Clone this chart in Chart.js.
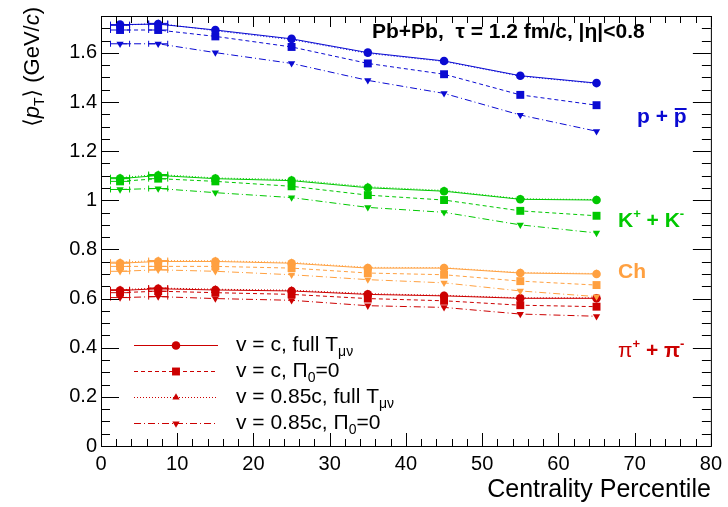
<!DOCTYPE html>
<html>
<head>
<meta charset="utf-8">
<script src="https://cdn.jsdelivr.net/npm/chart.js@4"></script>
<style>
  html, body { margin: 0; padding: 0; background: #fff; }
  #wrap { width: 728px; height: 507px; position: relative; }
</style>
</head>
<body>
<div id="wrap"><canvas id="ptChart"></canvas></div>
<script>
// centrality bins (percent)
const centrality = [2.5, 7.5, 15, 25, 35, 45, 55, 65];

// <pT> values, one array per species and model setting
const protonFull = [1.715, 1.717, 1.693, 1.657, 1.601, 1.567, 1.507, 1.477];
const protonPi0 = [1.693, 1.693, 1.667, 1.624, 1.557, 1.513, 1.429, 1.387];
const proton085Full = [1.712, 1.720, 1.690, 1.654, 1.598, 1.565, 1.505, 1.475];
const proton085Pi0 = [1.637, 1.637, 1.601, 1.557, 1.488, 1.435, 1.347, 1.281];

const kaonFull = [1.088, 1.101, 1.088, 1.080, 1.051, 1.037, 1.004, 1.001];
const kaonPi0 = [1.077, 1.088, 1.077, 1.057, 1.021, 1.001, 0.957, 0.937];
const kaon085Full = [1.092, 1.105, 1.091, 1.084, 1.055, 1.040, 1.006, 1.003];
const kaon085Pi0 = [1.044, 1.048, 1.031, 1.011, 0.971, 0.951, 0.900, 0.867];

const chFull = [0.744, 0.751, 0.751, 0.744, 0.724, 0.724, 0.704, 0.700];
const chPi0 = [0.731, 0.731, 0.731, 0.724, 0.704, 0.697, 0.671, 0.655];
const ch085Full = [0.748, 0.755, 0.754, 0.747, 0.727, 0.726, 0.706, 0.702];
const ch085Pi0 = [0.711, 0.717, 0.711, 0.697, 0.677, 0.664, 0.631, 0.608];

const pionFull = [0.633, 0.640, 0.635, 0.631, 0.617, 0.611, 0.601, 0.601];
const pionPi0 = [0.624, 0.630, 0.624, 0.617, 0.600, 0.591, 0.573, 0.567];
const pion085Full = [0.636, 0.643, 0.638, 0.634, 0.620, 0.613, 0.603, 0.603];
const pion085Pi0 = [0.604, 0.608, 0.600, 0.593, 0.571, 0.564, 0.537, 0.528];

const xTicks = [0, 10, 20, 30, 40, 50, 60, 70, 80];
const yTicks = [0, 0.2, 0.4, 0.6, 0.8, 1, 1.2, 1.4, 1.6];

const legendLabels = [
  ['v = c, full T', 'μν', ''],
  ['v = c, Π', '0', '=0'],
  ['v = 0.85c, full T', 'μν', ''],
  ['v = 0.85c, Π', '0', '=0'],
];

const BLUE = 'rgb(10,10,210)';
const GREEN = 'rgb(0,200,0)';
const ORANGE = 'rgb(255,160,64)';
const RED = 'rgb(204,0,0)';
const FONT = '"Liberation Sans", "DejaVu Sans", Arial, sans-serif';

const styles = [
  { dash: [], width: 1, point: 'circle', radius: 4.3, rot: 0 },
  { dash: [4, 3], width: 1, point: 'rect', radius: 5.6, rot: 0 },
  { dash: [1, 2], width: 1, point: 'triangle', radius: 4.2, rot: 0 },
  { dash: [7, 3, 1, 3], width: 1, point: 'triangle', radius: 4.2, rot: 180 },
];

function series(values, color, style) {
  return {
    data: values.map((v, i) => ({ x: centrality[i], y: v })),
    showLine: true,
    borderColor: color,
    backgroundColor: color,
    borderWidth: style.width,
    borderDash: style.dash,
    pointStyle: style.point,
    pointRadius: style.radius,
    pointRotation: style.rot,
    pointBorderWidth: 0,
    pointHoverRadius: style.radius,
    tension: 0,
  };
}

const groups = [
  [protonFull, protonPi0, proton085Full, proton085Pi0, BLUE],
  [kaonFull, kaonPi0, kaon085Full, kaon085Pi0, GREEN],
  [chFull, chPi0, ch085Full, ch085Pi0, ORANGE],
  [pionFull, pionPi0, pion085Full, pion085Pi0, RED],
];

const datasets = [];
groups.forEach(g => {
  datasets.push(series(g[0], g[4], styles[0]));
  datasets.push(series(g[1], g[4], styles[1]));
  datasets.push(series(g[3], g[4], styles[3]));
  datasets.push(series(g[2], g[4], styles[2]));
});

function drawMarker(ctx, style, x, y, color) {
  ctx.save();
  ctx.setLineDash([]);
  ctx.fillStyle = color;
  ctx.strokeStyle = color;
  Chart.helpers.drawPoint(ctx, {
    pointStyle: style.point,
    rotation: style.rot,
    radius: style.radius,
    borderWidth: 0,
  }, x, y);
  ctx.restore();
}

// text pieces drawn one after the other, {t, font, dy, color}
function drawRun(ctx, x, y, parts) {
  ctx.textAlign = 'left';
  ctx.textBaseline = 'alphabetic';
  parts.forEach(p => {
    ctx.font = p.font;
    ctx.fillStyle = p.color || '#000';
    ctx.fillText(p.t, x, y + (p.dy || 0));
    p.x0 = x;
    x += ctx.measureText(p.t).width + (p.gap || 0);
    p.x1 = x;
  });
  return x;
}

const rootStyle = {
  id: 'rootStyle',
  beforeDatasetsDraw(chart) {
    const ctx = chart.ctx;
    const xs = chart.scales.x, ys = chart.scales.y;
    // horizontal error bars on the two most central bins
    ctx.save();
    ctx.lineWidth = 1;
    chart.data.datasets.forEach(ds => {
      ctx.strokeStyle = ds.borderColor;
      ds.data.slice(0, 2).forEach(p => {
        const xl = xs.getPixelForValue(p.x - 1.25);
        const xr = xs.getPixelForValue(p.x + 1.25);
        const py = ys.getPixelForValue(p.y);
        ctx.beginPath();
        ctx.moveTo(xl, py); ctx.lineTo(xr, py);
        ctx.moveTo(xl, py - 3); ctx.lineTo(xl, py + 3);
        ctx.moveTo(xr, py - 3); ctx.lineTo(xr, py + 3);
        ctx.stroke();
      });
    });
    ctx.restore();
  },
  afterDraw(chart) {
    const ctx = chart.ctx;
    const a = chart.chartArea;
    const xs = chart.scales.x, ys = chart.scales.y;
    ctx.save();
    ctx.strokeStyle = '#000';
    ctx.lineWidth = 1;
    ctx.strokeRect(a.left + 0.5, a.top + 0.5, a.right - a.left, a.bottom - a.top);

    // inward tick marks on all four sides
    ctx.beginPath();
    for (let v = 0; v <= 80; v += 2) {
      const px = Math.round(xs.getPixelForValue(v)) + 0.5;
      const major = v % 10 === 0;
      const lb = major ? 13 : 7;
      const lt = major ? 11 : 7;
      ctx.moveTo(px, a.bottom); ctx.lineTo(px, a.bottom - lb);
      ctx.moveTo(px, a.top); ctx.lineTo(px, a.top + lt);
    }
    for (let k = 0; k <= 35; k++) {
      const v = k * 0.05;
      const py = Math.round(ys.getPixelForValue(v)) + 0.5;
      const len = k % 4 === 0 ? 18 : 9;
      ctx.moveTo(a.left, py); ctx.lineTo(a.left + len, py);
      ctx.moveTo(a.right, py); ctx.lineTo(a.right - len, py);
    }
    ctx.stroke();

    // header
    drawRun(ctx, 372, 38, [{ t: 'Pb+Pb,  τ = 1.2 fm/c, |η|<0.8', font: 'bold 21px ' + FONT }]);

    // species labels
    const pParts = [
      { t: 'p + ', font: 'bold 21px ' + FONT, color: BLUE },
      { t: 'p', font: 'bold 21px ' + FONT, color: BLUE },
    ];
    drawRun(ctx, 637, 123, pParts);
    ctx.fillStyle = BLUE;
    ctx.fillRect(pParts[1].x0 + 1, 108, pParts[1].x1 - pParts[1].x0 - 1, 2);

    drawRun(ctx, 618, 227, [
      { t: 'K', font: 'bold 21px ' + FONT, color: GREEN },
      { t: '+', font: 'bold 13px ' + FONT, color: GREEN, dy: -9 },
      { t: ' + K', font: 'bold 21px ' + FONT, color: GREEN },
      { t: '-', font: 'bold 13px ' + FONT, color: GREEN, dy: -9 },
    ]);
    drawRun(ctx, 618, 278, [{ t: 'Ch', font: 'bold 21px ' + FONT, color: ORANGE }]);
    drawRun(ctx, 618, 357, [
      { t: 'π', font: '21px ' + FONT, color: RED },
      { t: '+', font: 'bold 13px ' + FONT, color: RED, dy: -9 },
      { t: ' + π', font: 'bold 21px ' + FONT, color: RED },
      { t: '-', font: 'bold 13px ' + FONT, color: RED, dy: -9 },
    ]);

    // legend
    const rowY = [345, 371, 397, 423];
    legendLabels.forEach((lab, i) => {
      const st = styles[i];
      const y = rowY[i];
      ctx.save();
      ctx.strokeStyle = RED;
      ctx.lineWidth = st.width;
      ctx.setLineDash(st.dash);
      ctx.beginPath();
      ctx.moveTo(134, y + 0.5);
      ctx.lineTo(218, y + 0.5);
      ctx.stroke();
      ctx.restore();
      drawMarker(ctx, st, 176, y + 0.5, RED);
      drawRun(ctx, 236, y + 6, [
        { t: lab[0], font: '21px ' + FONT },
        { t: lab[1], font: '14px ' + FONT, dy: 5 },
        { t: lab[2], font: '21px ' + FONT },
      ]);
    });

    // x title
    ctx.font = '25px ' + FONT;
    ctx.fillStyle = '#000';
    ctx.textAlign = 'right';
    ctx.textBaseline = 'alphabetic';
    ctx.fillText('Centrality Percentile', a.right, 497);

    // y title, rotated
    ctx.save();
    ctx.translate(39, 7);
    ctx.rotate(-Math.PI / 2);
    const yParts = [
      { t: '⟨', font: '22px ' + FONT },
      { t: 'p', font: 'italic 22px ' + FONT },
      { t: 'T', font: '14px ' + FONT, dy: 5 },
      { t: '⟩ (GeV/', font: '22px ' + FONT },
      { t: 'c', font: 'italic 22px ' + FONT },
      { t: ')', font: '22px ' + FONT },
    ];
    let w = 0;
    yParts.forEach(p => { ctx.font = p.font; w += ctx.measureText(p.t).width; });
    drawRun(ctx, -w, 0, yParts);
    ctx.restore();

    ctx.restore();
  },
};

new Chart(document.getElementById('ptChart'), {
  type: 'scatter',
  data: { datasets: datasets },
  plugins: [rootStyle],
  options: {
    responsive: true,
    maintainAspectRatio: false,
    animation: false,
    events: [],
    layout: { padding: { top: 7, right: 15, left: 0, bottom: 0 } },
    plugins: { legend: { display: false }, tooltip: { enabled: false } },
    scales: {
      x: {
        type: 'linear',
        min: 0,
        max: 80,
        bounds: 'data',
        afterFit: s => { s.height = 61; },
        grid: { display: false, drawTicks: false },
        border: { display: false },
        afterBuildTicks: s => { s.ticks = xTicks.map(v => ({ value: v })); },
        ticks: {
          padding: 6,
          maxRotation: 0,
          autoSkip: false,
          color: '#000',
          font: { family: FONT, size: 20 },
        },
      },
      y: {
        type: 'linear',
        min: 0,
        max: 1.75,
        bounds: 'data',
        afterFit: s => { s.width = 101; },
        grid: { display: false, drawTicks: false },
        border: { display: false },
        afterBuildTicks: s => { s.ticks = yTicks.map(v => ({ value: v })); },
        ticks: {
          padding: 4,
          autoSkip: false,
          color: '#000',
          font: { family: FONT, size: 20 },
          callback: v => String(Number(v.toFixed(2))),
        },
      },
    },
  },
});
</script>
</body>
</html>
